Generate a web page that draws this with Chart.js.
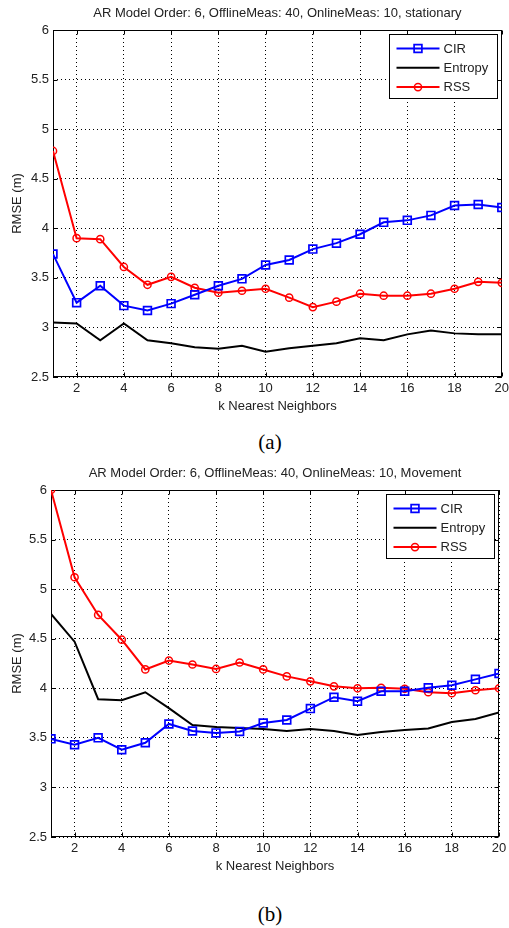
<!DOCTYPE html>
<html>
<head>
<meta charset="utf-8">
<script src="https://cdn.jsdelivr.net/npm/chart.js@4/dist/chart.umd.min.js"></script>
<style>
  html, body { margin:0; padding:0; background:#fff; }
  body { width:509px; height:928px; position:relative; overflow:hidden; }
  canvas { position:absolute; left:0; }
  .cap { position:absolute; width:60px; text-align:center; font-family:"Liberation Serif","Times New Roman",serif; font-size:21px; color:#000; line-height:24px; }
</style>
</head>
<body>
<canvas id="chartA" width="509" height="420" style="top:0px"></canvas>
<div class="cap" style="left:240px; top:430px;">(a)</div>
<canvas id="chartB" width="509" height="420" style="top:460px"></canvas>
<div class="cap" style="left:240px; top:902px;">(b)</div>
<script>
// ---------- data ----------
const kValues = [1,2,3,4,5,6,7,8,9,10,11,12,13,14,15,16,17,18,19,20];
const xTicks = [2,4,6,8,10,12,14,16,18,20];
const yTicks = [2.5,3,3.5,4,4.5,5,5.5,6];
const yTickLabels = ['2.5','3','3.5','4','4.5','5','5.5','6'];
const seriesNames = ['CIR','Entropy','RSS'];
const xTitle = 'k Nearest Neighbors';
const yTitle = 'RMSE (m)';
const titleStationary = 'AR Model Order: 6, OfflineMeas: 40, OnlineMeas: 10, stationary';
const titleMovement = 'AR Model Order: 6, OfflineMeas: 40, OnlineMeas: 10, Movement';

const cirStationary     = [3.74,3.25,3.42,3.22,3.17,3.24,3.33,3.42,3.49,3.63,3.68,3.79,3.85,3.94,4.06,4.08,4.13,4.23,4.24,4.21];
const entropyStationary = [3.05,3.04,2.87,3.04,2.87,2.84,2.80,2.785,2.815,2.755,2.79,2.815,2.84,2.89,2.87,2.93,2.97,2.94,2.93,2.93];
const rssStationary     = [4.78,3.90,3.89,3.61,3.43,3.51,3.40,3.35,3.37,3.39,3.30,3.205,3.26,3.34,3.32,3.32,3.34,3.39,3.46,3.45];

const cirMovement     = [3.49,3.43,3.50,3.38,3.45,3.64,3.57,3.55,3.565,3.65,3.68,3.795,3.91,3.87,3.97,3.97,4.005,4.03,4.09,4.15];
const entropyMovement = [4.75,4.47,3.89,3.88,3.96,3.80,3.63,3.61,3.60,3.59,3.57,3.59,3.57,3.53,3.56,3.58,3.595,3.66,3.69,3.755];
const rssMovement     = [6.0,5.12,4.74,4.49,4.19,4.28,4.24,4.195,4.26,4.19,4.12,4.07,4.02,4.00,4.005,3.995,3.96,3.95,3.98,4.00];

// ---------- helpers ----------
const FONT = '"Liberation Sans", Arial, Helvetica, sans-serif';
const TXT = '#222';

const framePlugin = {
  id: 'frame',
  beforeDatasetsDraw(chart) {
    const {ctx, chartArea: a, scales: {x, y}} = chart;
    const L = Math.round(a.left) + 0.5, R = Math.round(a.right) - 0.5;
    const T = Math.round(a.top) + 0.5, B = Math.round(a.bottom) - 0.5;
    ctx.save();
    ctx.strokeStyle = '#000';
    ctx.lineWidth = 1;
    ctx.setLineDash([]);
    ctx.strokeRect(L, T, R - L, B - T);
    ctx.beginPath();
    const tl = 4;
    xTicks.forEach(v => {
      const px = Math.round(x.getPixelForValue(v)) + 0.5;
      ctx.moveTo(px, B); ctx.lineTo(px, B - tl);
      ctx.moveTo(px, T); ctx.lineTo(px, T + tl);
    });
    yTicks.forEach(v => {
      const py = Math.round(y.getPixelForValue(v)) + 0.5;
      ctx.moveTo(L, py); ctx.lineTo(L + tl, py);
      ctx.moveTo(R, py); ctx.lineTo(R - tl, py);
    });
    ctx.stroke();
    ctx.restore();
  }
};

const legendPlugin = {
  id: 'boxLegend',
  afterDraw(chart) {
    const {ctx, chartArea: a} = chart;
    const w = 108, h = 64;
    const left = Math.round(a.right - 5 - w) + 0.5;
    const top = Math.round(a.top + 4) + 0.5;
    ctx.save();
    ctx.fillStyle = '#fff';
    ctx.fillRect(left, top, w, h);
    ctx.strokeStyle = '#000';
    ctx.lineWidth = 1;
    ctx.strokeRect(left, top, w, h);
    chart.data.datasets.forEach((ds, i) => {
      const cy = top + 14 + i * 19.3;
      const x0 = left + 7, x1 = left + 50, xm = (x0 + x1) / 2;
      ctx.strokeStyle = ds.borderColor;
      ctx.lineWidth = ds.borderWidth;
      ctx.beginPath(); ctx.moveTo(x0, cy); ctx.lineTo(x1, cy); ctx.stroke();
      if (ds.pointRadius > 0) {
        ctx.lineWidth = ds.pointBorderWidth;
        ctx.strokeStyle = ds.pointBorderColor;
        ctx.beginPath();
        if (ds.pointStyle === 'rect') {
          const s = ds.pointRadius * Math.SQRT1_2;
          ctx.rect(xm - s, cy - s, 2 * s, 2 * s);
        } else {
          ctx.arc(xm, cy, ds.pointRadius, 0, Math.PI * 2);
        }
        ctx.stroke();
      }
      ctx.fillStyle = TXT;
      ctx.font = '13px ' + FONT;
      ctx.textBaseline = 'middle';
      ctx.textAlign = 'left';
      ctx.fillText(ds.label, left + 54, cy + 0.5);
    });
    ctx.restore();
  }
};

function makeChart(id, title, cir, ent, rss, yAxisWidth, padRight) {
  const pts = arr => kValues.map((k, i) => ({x: k, y: arr[i]}));
  return new Chart(document.getElementById(id), {
    type: 'line',
    data: {
      datasets: [
        { label: seriesNames[0], data: pts(cir), borderColor: '#0000ff', borderWidth: 2,
          pointStyle: 'rect', pointRadius: 5.5, pointBorderWidth: 1.7, pointBorderColor: '#0000ff',
          pointBackgroundColor: 'rgba(0,0,0,0)', tension: 0 },
        { label: seriesNames[1], data: pts(ent), borderColor: '#000000', borderWidth: 2,
          pointRadius: 0, pointBorderWidth: 0, pointBorderColor: '#000', tension: 0 },
        { label: seriesNames[2], data: pts(rss), borderColor: '#ff0000', borderWidth: 2,
          pointStyle: 'circle', pointRadius: 3.6, pointBorderWidth: 1.5, pointBorderColor: '#ff0000',
          pointBackgroundColor: 'rgba(0,0,0,0)', tension: 0 }
      ]
    },
    options: {
      responsive: false,
      animation: false,
      devicePixelRatio: 1,
      layout: { padding: { left: 0, right: padRight, top: 0, bottom: 0 } },
      plugins: {
        legend: { display: false },
        tooltip: { enabled: false },
        title: {
          display: true, text: title, fullSize: false, color: TXT,
          font: { family: FONT, size: 13, weight: 'normal', lineHeight: 1.2 },
          padding: { top: 6, bottom: 8.4 }
        }
      },
      scales: {
        x: {
          type: 'linear', min: 1, max: 20,
          afterBuildTicks: s => { s.ticks = xTicks.map(v => ({value: v})); },
          afterFit: s => { s.height = 43; s.paddingLeft = 0; s.paddingRight = 0; },
          ticks: { color: TXT, font: { family: FONT, size: 13 }, padding: 4, maxRotation: 0, autoSkip: false,
                   callback: v => String(v) },
          grid: { color: '#000', lineWidth: 1, drawTicks: false },
          border: { display: false, dash: [1, 3] },
          title: { display: true, text: xTitle, color: TXT, font: { family: FONT, size: 13 },
                   padding: { top: 0, bottom: 6.2 } }
        },
        y: {
          type: 'linear', min: 2.5, max: 6,
          afterBuildTicks: s => { s.ticks = yTicks.map(v => ({value: v})); },
          afterFit: s => { s.width = yAxisWidth; s.paddingTop = 0; s.paddingBottom = 0; },
          ticks: { color: TXT, font: { family: FONT, size: 13 }, padding: 4, autoSkip: false,
                   callback: (v, i) => yTickLabels[i] },
          grid: { color: '#000', lineWidth: 1, drawTicks: false },
          border: { display: false, dash: [1, 3] },
          title: { display: true, text: yTitle, color: TXT, font: { family: FONT, size: 13 },
                   padding: { top: 10, bottom: 0 } }
        }
      }
    },
    plugins: [framePlugin, legendPlugin]
  });
}

makeChart('chartA', titleStationary, cirStationary, entropyStationary, rssStationary, 53, 7);
makeChart('chartB', titleMovement, cirMovement, entropyMovement, rssMovement, 51, 10);
</script>
</body>
</html>
